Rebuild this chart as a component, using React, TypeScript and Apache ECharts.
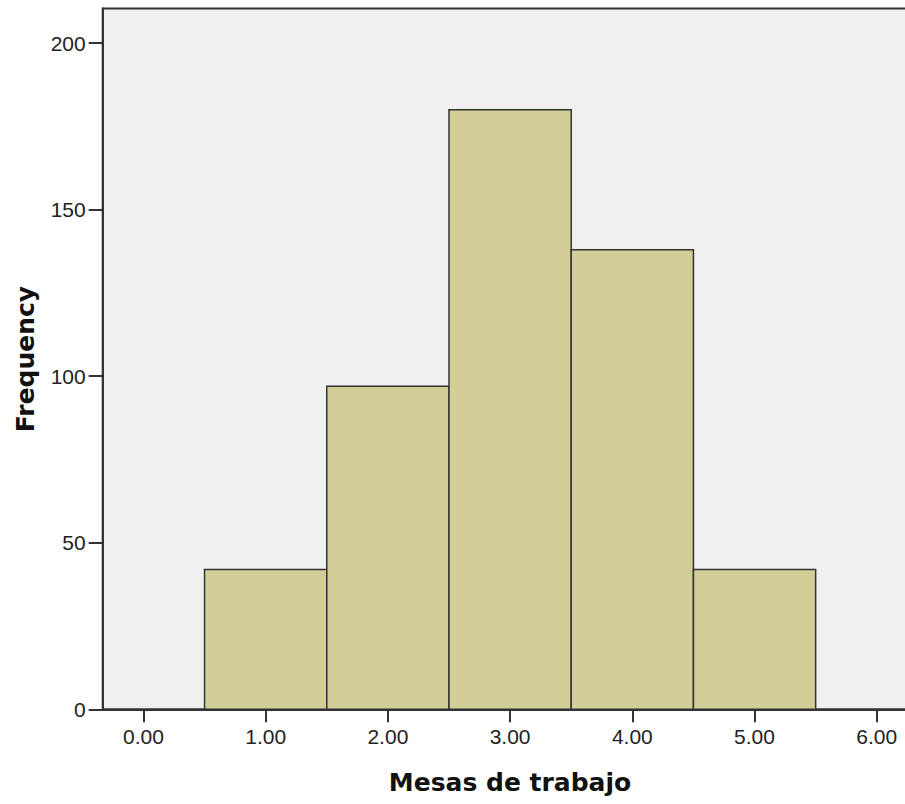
import React, { useEffect, useRef } from "react";
import * as echarts from "echarts";

const binStarts = [0.5, 1.5, 2.5, 3.5, 4.5];
const binEnds = [1.5, 2.5, 3.5, 4.5, 5.5];
const frequencies = [42, 97, 180, 138, 42];
const xTickValues = [0, 1, 2, 3, 4, 5, 6];
const yTickValues = [0, 50, 100, 150, 200];
const xTitle = "Mesas de trabajo";
const yTitle = "Frequency";

export default function App() {
  const ref = useRef<HTMLDivElement>(null);
  useEffect(() => {
    if (!ref.current) return;
    const chart = echarts.init(ref.current, null, { renderer: "svg" });
    const data = binStarts.map((s, i) => [s, binEnds[i], frequencies[i]]);
    chart.setOption({
      animation: false,
      backgroundColor: "#ffffff",
      grid: {
        left: 102.7,
        top: 8.5,
        width: 814.8,
        height: 700.8,
        containLabel: false,
        outerBoundsMode: "none",
        show: true,
        backgroundColor: "#F0F0F0",
        borderColor: "#333333",
        borderWidth: 2,
      },
      xAxis: {
        type: "value",
        min: -1 / 3,
        max: 19 / 3,
        axisLine: { show: true, onZero: false, lineStyle: { color: "#333333", width: 2 } },
        axisTick: {
          show: true,
          length: 13,
          customValues: xTickValues,
          lineStyle: { color: "#333333", width: 2 },
        },
        axisLabel: {
          customValues: xTickValues,
          formatter: (v: number) => v.toFixed(2),
          fontFamily: "Liberation Sans",
          fontSize: 21,
          color: "#222222",
          margin: 17,
        },
        splitLine: { show: false },
      },
      yAxis: {
        type: "value",
        min: 0,
        max: 210.4,
        axisLine: { show: true, onZero: false, lineStyle: { color: "#333333", width: 2 } },
        axisTick: {
          show: true,
          length: 14,
          customValues: yTickValues,
          lineStyle: { color: "#333333", width: 2 },
        },
        axisLabel: {
          customValues: yTickValues,
          fontFamily: "Liberation Sans",
          fontSize: 21,
          color: "#222222",
          margin: 17,
        },
        splitLine: { show: false },
      },
      graphic: [
        {
          type: "text",
          x: 510,
          y: 782,
          style: {
            text: xTitle,
            font: "bold 25px 'DejaVu Sans'",
            fill: "#111111",
            align: "center",
            verticalAlign: "middle",
          },
        },
        {
          type: "text",
          x: 25,
          y: 359,
          rotation: Math.PI / 2,
          style: {
            text: yTitle,
            font: "bold 25px 'DejaVu Sans'",
            fill: "#111111",
            align: "center",
            verticalAlign: "middle",
          },
        },
      ],
      series: [
        {
          type: "custom",
          data,
          renderItem: (params: any, api: any) => {
            const p0 = api.coord([api.value(0), 0]);
            const p1 = api.coord([api.value(1), api.value(2)]);
            return {
              type: "rect",
              shape: {
                x: p0[0],
                y: p1[1],
                width: p1[0] - p0[0],
                height: p0[1] - p1[1],
              },
              style: {
                fill: "#D3CE97",
                stroke: "#333333",
                lineWidth: 1.5,
              },
            };
          },
        },
      ],
    });
    return () => chart.dispose();
  }, []);
  return (
    <div
      ref={ref}
      style={{ position: "absolute", left: 0, top: 0, width: 905, height: 804 }}
    />
  );
}
